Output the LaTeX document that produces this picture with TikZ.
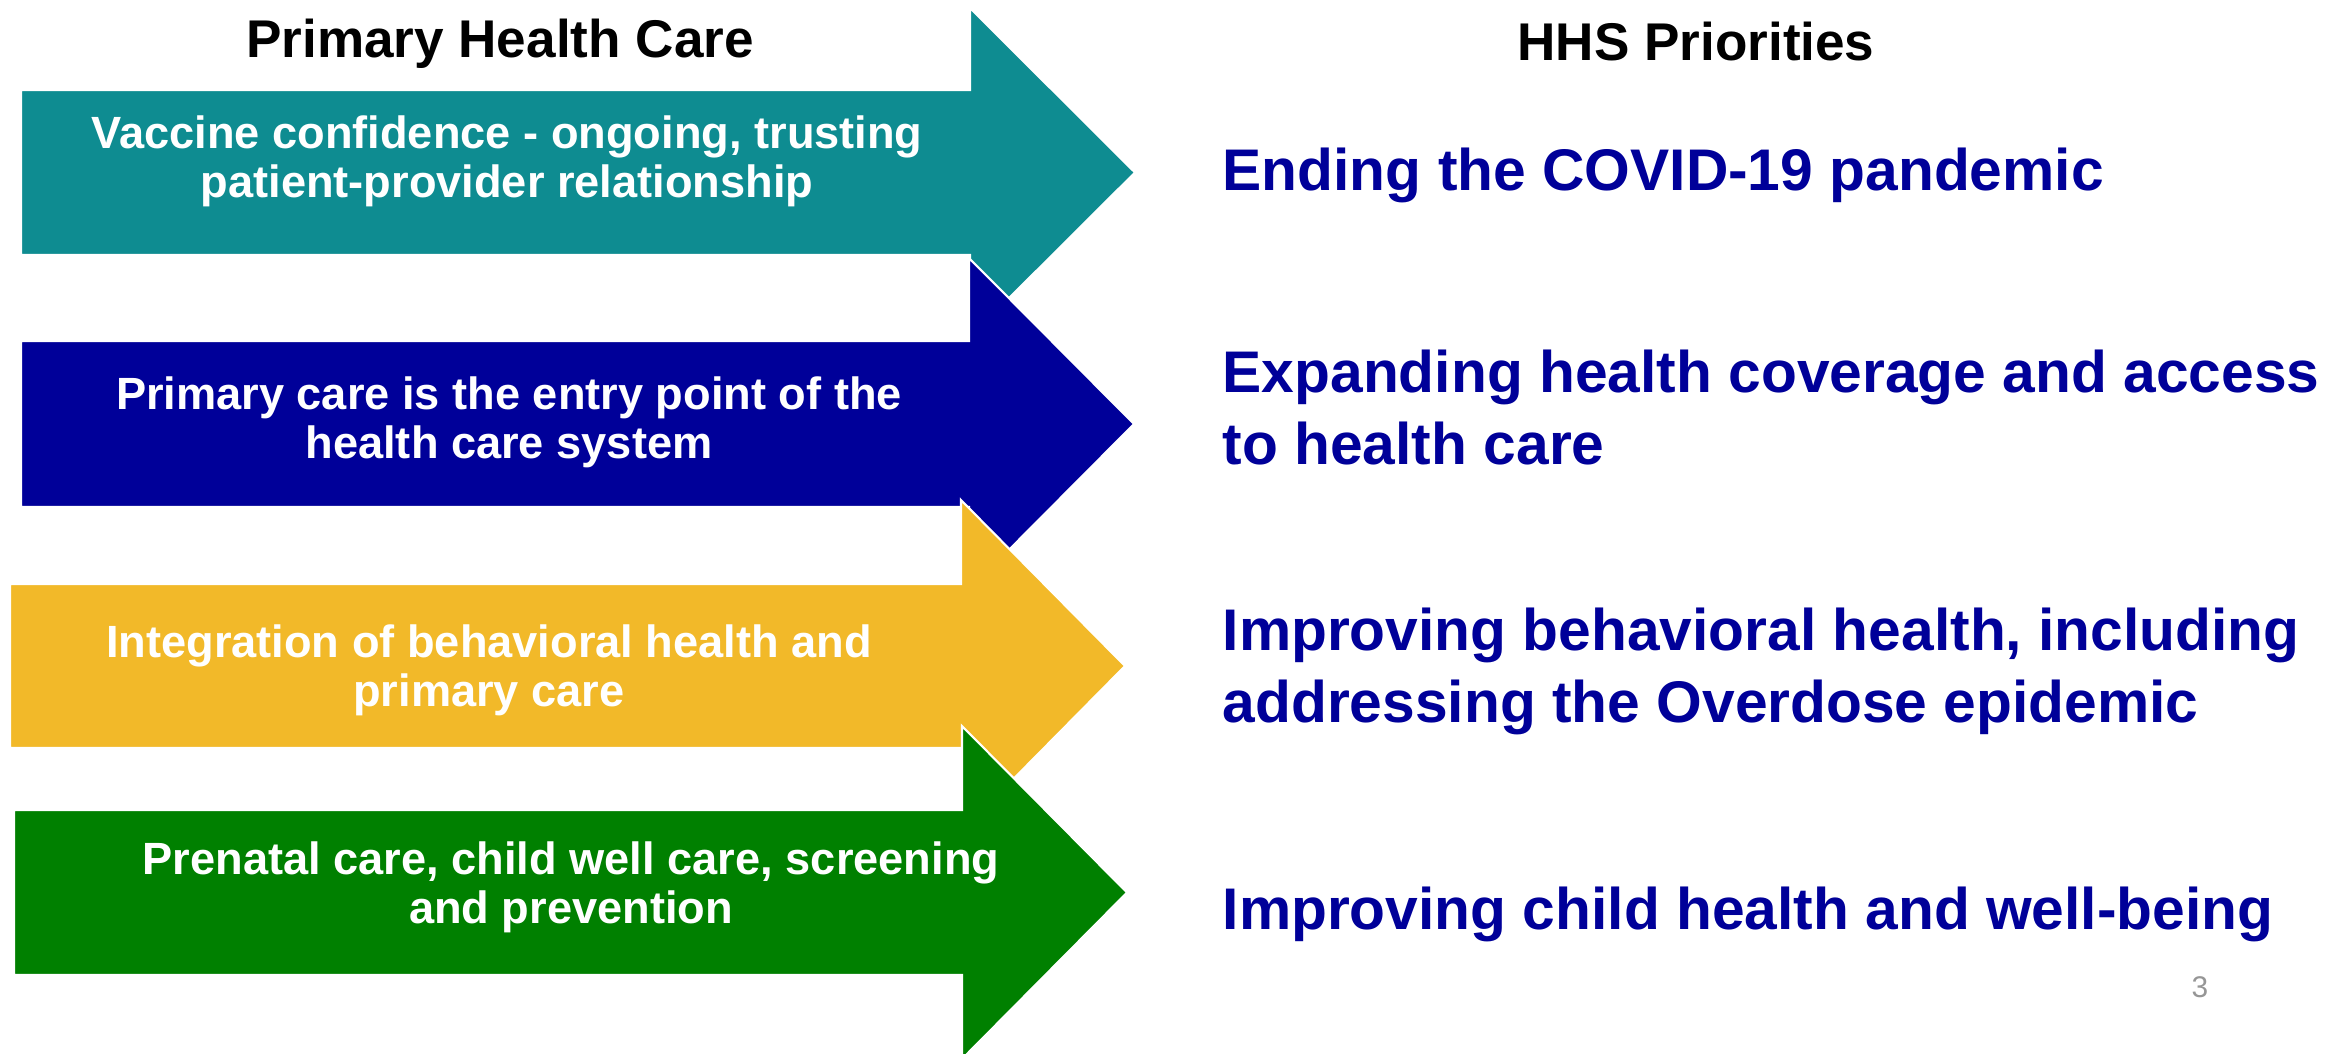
\documentclass[tikz,border=0pt]{standalone}
\usepackage{fontspec}
\setmainfont{Liberation Sans}
\usepackage{tikz}
\usetikzlibrary{positioning}
\definecolor{pcteal}{RGB}{14,140,145}
\definecolor{pcnavy}{RGB}{0,0,153}
\definecolor{pcyellow}{RGB}{242,185,41}
\definecolor{pcgreen}{RGB}{0,128,0}
\definecolor{pagegray}{RGB}{150,150,150}

\begin{document}
\begin{tikzpicture}[
x=0.01cm, y=-0.01cm,
bigarrow/.style={
    draw=white,
    line width=0.6pt,
    line join=miter,
},
headtext/.style={
    font=\bfseries\fontsize{15.1}{18}\selectfont,
    text=black,
    inner sep=0pt,
    anchor=base,
},
armtext/.style={
    font=\bfseries\fontsize{12.85}{13.7}\selectfont,
    text=white,
    align=center,
    inner sep=0pt, % No inner spacing
    anchor=base, % base of the last line
},
priotext/.style={
    font=\bfseries\fontsize{16.7}{20.2}\selectfont,
    text=pcnavy,
    align=left,
    inner sep=0pt,
    anchor=base west,
},
]
\useasboundingbox (0,0) rectangle (2343,1053);

% arrows, each one lies over the one above it
\filldraw[bigarrow, fill=pcteal]   (21,90)  -- (970,90)  -- (970,8)   -- (1135,172.5) -- (970,337)  -- (970,255) -- (21,255) -- cycle;
\filldraw[bigarrow, fill=pcnavy]   (21,341) -- (969,341) -- (969,258) -- (1134,424)   -- (969,590)  -- (969,507) -- (21,507) -- cycle;
\filldraw[bigarrow, fill=pcyellow] (10,584) -- (961,584) -- (961,500) -- (1125,666)   -- (961,832)  -- (961,748) -- (10,748) -- cycle;
\filldraw[bigarrow, fill=pcgreen]  (14,810) -- (962,810) -- (962,726) -- (1127,892.5) -- (962,1059) -- (962,975) -- (14,975) -- cycle;

\node[headtext] (pchead) at (500,57) {Primary Health Care};
\node[headtext] (hhshead) at (1696,60) {HHS Priorities};

\node[armtext] (vaccine) at (507,197) {Vaccine confidence - ongoing, trusting\\patient-provider relationship};
\node[armtext] (entry) at (509,458) {Primary care is the entry point of the\\health care system};
\node[armtext] (integration) at (489,706) {Integration of behavioral health and\\primary care};
\node[armtext] (prenatal) at (571,923) {Prenatal care, child well care, screening\\and prevention};

\node[priotext] (covid) at (1222,190) {Ending the COVID-19 pandemic};
\node[priotext] (coverage) at (1222,464) {Expanding health coverage and access\\to health care};
\node[priotext] (behavioral) at (1222,722) {Improving behavioral health, including\\addressing the Overdose epidemic};
\node[priotext] (child) at (1222,929) {Improving child health and well-being};

\node[font=\fontsize{8.5}{10}\selectfont, text=pagegray, inner sep=0pt, anchor=base] (pagenum) at (2200,997) {3};

\end{tikzpicture}
\end{document}
